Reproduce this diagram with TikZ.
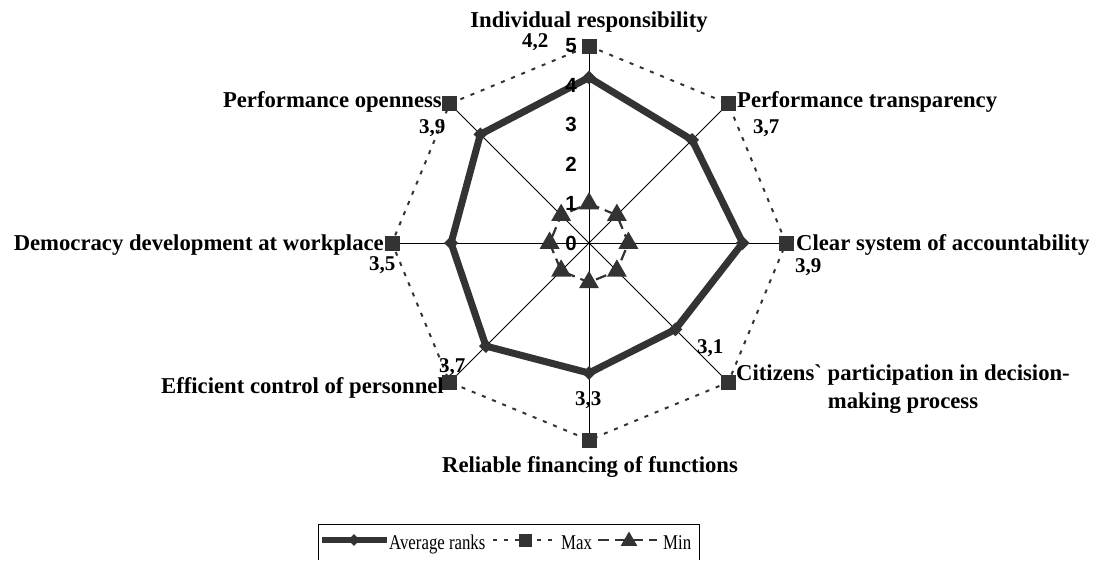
\documentclass[tikz,border=0pt]{standalone}
\usepackage{fontspec}
\setmainfont{Liberation Serif}
\newfontfamily\tickfont{Liberation Sans}
\usepackage{tikz}
\usetikzlibrary{shapes.geometric, calc}
\definecolor{serie}{HTML}{333333}

\tikzset{
  spoke/.style={black, line width=0.9pt},
  avgline/.style={serie, line width=7pt, line join=miter},
  maxline/.style={serie, line width=2pt, dash pattern=on 4pt off 7pt},
  minline/.style={serie, line width=2.2pt, dash pattern=on 11pt off 6pt},
  maxmark/.style={rectangle, fill=serie, minimum size=15pt, inner sep=0pt},
  avgmark/.style={diamond, fill=serie, minimum size=14pt, inner sep=0pt},
  minmark/.style={regular polygon, regular polygon sides=3, fill=serie, minimum size=23pt, inner sep=0pt},
  catlabel/.style={font=\fontsize{22.7}{28}\selectfont\bfseries, inner sep=0pt},
  vallabel/.style={font=\fontsize{21}{24}\selectfont\bfseries, inner sep=0pt, anchor=base west},
  ticklabel/.style={font=\tickfont\fontsize{20.5}{22}\selectfont\bfseries, inner sep=0pt, anchor=east},
  legtext/.style={font=\fontsize{21}{24}\selectfont, inner sep=0pt, anchor=base west}
}
\newcommand{\narrow}[1]{\scalebox{0.8}[1]{#1}}

\begin{document}
\begin{tikzpicture}[x=1pt,y=-1pt]
	\useasboundingbox (0,0) rectangle (1093,560);
	\coordinate (O) at (589,243);
	% axes, clockwise from the top
	\foreach \i/\a in {0/4.2, 1/3.7, 2/3.9, 3/3.1, 4/3.3, 5/3.7, 6/3.5, 7/3.9} {
		\coordinate (mx\i) at ($(O)+(45*\i-90:197)$);
		\coordinate (av\i) at ($(O)+(45*\i-90:39.4*\a)$);
		\coordinate (mn\i) at ($(O)+(45*\i-90:39.4)$);
	}
	\foreach \i in {0,...,7}
		\draw[spoke] (O) -- (mx\i);

	% series
	\draw[avgline] (av0) \foreach \i in {1,...,7} { -- (av\i) } -- cycle;
	\foreach \i in {0,...,7}
		\node[avgmark] (dm\i) at (av\i) {};
	\draw[maxline] (mx0) \foreach \i in {1,...,7} { -- (mx\i) } -- cycle;
	\foreach \i in {0,...,7}
		\node[maxmark] (sq\i) at (mx\i) {};
	\draw[minline] (mn0) \foreach \i in {1,...,7} { -- (mn\i) } -- cycle;
	\foreach \i in {0,...,7}
		\node[minmark] (tr\i) at (mn\i) {};

	% scale
	\foreach \t in {0,...,5}
		\node[ticklabel] (tk\t) at ($(O)+(-12,-39.4*\t)$) {\t};

	% axis names
	\node[catlabel, anchor=base]      (ir) at (589,27)  {Individual responsibility};
	\node[catlabel, anchor=base west] (pt) at (737,107) {Performance transparency};
	\node[catlabel, anchor=base west] (cs) at (796,250) {Clear system of accountability};
	\node[catlabel, anchor=north, align=center] (cp) at (903,364.5) {Citizens\textasciigrave{} participation in decision-\\making process};
	\node[catlabel, anchor=base]      (rf) at (590,472) {Reliable financing of functions};
	\node[catlabel, anchor=base east] (ec) at (444,393) {Efficient control of personnel};
	\node[catlabel, anchor=base east] (dd) at (384,250) {Democracy development at workplace};
	\node[catlabel, anchor=base east] (po) at (442,107) {Performance openness};

	% average values
	\node[vallabel] (v0) at (522,47)  {4,2};
	\node[vallabel] (v1) at (753,133) {3,7};
	\node[vallabel] (v2) at (795,272) {3,9};
	\node[vallabel] (v3) at (697,353) {3,1};
	\node[vallabel] (v4) at (575,405) {3,3};
	\node[vallabel] (v5) at (439,372) {3,7};
	\node[vallabel] (v6) at (369,270) {3,5};
	\node[vallabel] (v7) at (419,133) {3,9};

	% legend
	\draw[black, line width=0.8pt] (318,560) -- (318,524) -- (699,524) -- (699,560);
	\coordinate (la) at (322,540);
	\coordinate (lb) at (387,540);
	\draw[avgline, line width=6pt] (la) -- (lb);
	\node[avgmark, minimum size=12pt] (ld) at (354,540) {};
	\node[legtext] (lt1) at (389,549) {\narrow{Average ranks}};
	\coordinate (lc) at (493,540);
	\coordinate (ld2) at (558,540);
	\draw[maxline] (lc) -- (ld2);
	\node[maxmark, minimum size=13pt] (ls) at (525,540) {};
	\node[legtext] (lt2) at (561,549) {\narrow{Max}};
	\coordinate (le) at (598,540);
	\coordinate (lf) at (657,540);
	\draw[minline] (le) -- (lf);
	\node[minmark, minimum size=19pt] (ltr) at (629,541) {};
	\node[legtext] (lt3) at (663,549) {\narrow{Min}};
\end{tikzpicture}
\end{document}
